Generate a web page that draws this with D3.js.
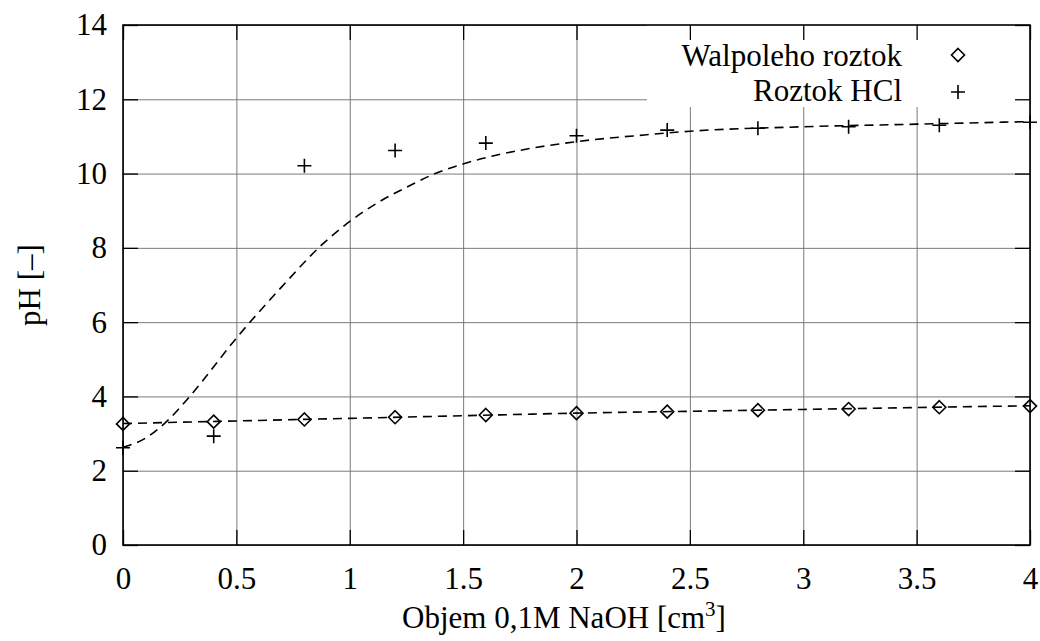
<!DOCTYPE html>
<html>
<head>
<meta charset="utf-8">
<script src="https://cdn.jsdelivr.net/npm/d3@7/dist/d3.min.js"></script>
<style>
  body { margin: 0; background: #fff; }
</style>
</head>
<body>
<div id="chart"></div>
<script>
// measured points (volume of NaOH in cm3)
var volumes = [0, 0.4, 0.8, 1.2, 1.6, 2.0, 2.4, 2.8, 3.2, 3.6, 4.0];
var walpolePH = [3.26, 3.32, 3.38, 3.44, 3.50, 3.55, 3.59, 3.63, 3.66, 3.71, 3.74];
var hclPH = [2.62, 2.93, 10.21, 10.62, 10.82, 11.02, 11.17, 11.22, 11.26, 11.30, 11.38];

// fitted curves
var walpoleFitX = [0, 0.5, 1.0, 1.5, 2.0, 2.5, 3.0, 3.5, 4.0];
var walpoleFitY = [3.27, 3.34, 3.41, 3.48, 3.55, 3.60, 3.65, 3.70, 3.75];
var hclFitX = [0, 0.1, 0.2, 0.3, 0.5, 0.7, 0.88, 1.0, 1.13, 1.27, 1.38, 1.5, 1.65, 1.8, 2.0, 2.3, 2.5, 3.0, 3.5, 4.0];
var hclFitY = [2.63, 2.88, 3.37, 4.04, 5.57, 6.95, 8.10, 8.71, 9.24, 9.69, 10.01, 10.26, 10.50, 10.68, 10.86, 11.04, 11.14, 11.26, 11.33, 11.40];

var xTicks = [0, 0.5, 1, 1.5, 2, 2.5, 3, 3.5, 4];
var yTicks = [0, 2, 4, 6, 8, 10, 12, 14];
var seriesNames = ["Walpoleho roztok", "Roztok HCl"];

var serif = "'Liberation Serif'";
var fontSize = 31;
var width = 1040, height = 641;
var offsets = { left: 123, right: 10, top: 25, bottom: 96 };
var plotW = width - offsets.left - offsets.right;
var plotH = height - offsets.top - offsets.bottom;

var svg = d3.select('#chart').append('svg').attr('width', width).attr('height', height);
var g = svg.append('g').attr('transform', 'translate(' + offsets.left + ',' + offsets.top + ')');

var x = d3.scaleLinear().domain([0, 4]).range([0, plotW]);
var y = d3.scaleLinear().domain([0, 14]).range([plotH, 0]);
var fmt = d3.format('~g');

// grid
var gridX = g.append('g').attr('transform', 'translate(0,' + plotH + ')')
    .call(d3.axisBottom(x).tickValues(xTicks).tickSize(-plotH).tickFormat(''));
var gridY = g.append('g').call(d3.axisLeft(y).tickValues(yTicks).tickSize(-plotW).tickFormat(''));
[gridX, gridY].forEach(function(a) {
    a.select('.domain').remove();
    a.selectAll('line').attr('stroke', '#7a7a7a').attr('stroke-width', 1);
});

// key background covers the grid
g.append('rect').attr('x', 524).attr('y', 0).attr('width', plotW - 524).attr('height', 82).attr('fill', '#fff');

// ticks (inward, mirrored) and labels
var tick = 15;
var axBottom = g.append('g').attr('transform', 'translate(0,' + plotH + ')')
    .call(d3.axisBottom(x).tickValues(xTicks).tickSize(-tick).tickPadding(33).tickFormat(fmt));
var axTop = g.append('g').call(d3.axisTop(x).tickValues(xTicks).tickSize(-tick).tickFormat(''));
var axLeft = g.append('g').call(d3.axisLeft(y).tickValues(yTicks).tickSize(-tick).tickPadding(16).tickFormat(fmt));
var axRight = g.append('g').attr('transform', 'translate(' + plotW + ',0)')
    .call(d3.axisRight(y).tickValues(yTicks).tickSize(-tick).tickFormat(''));
[axBottom, axTop, axLeft, axRight].forEach(function(a) {
    a.select('.domain').remove();
    a.attr('font-family', serif).attr('font-size', fontSize);
    a.selectAll('line').attr('stroke', '#000').attr('stroke-width', 1.3);
    a.selectAll('text').attr('fill', '#000');
});
axBottom.selectAll('text').attr('dy', '0.35em');
g.append('rect').attr('width', plotW).attr('height', plotH).attr('fill', 'none')
    .attr('stroke', '#000').attr('stroke-width', 1.6);

// fitted curves
var line = d3.line().x(function(d) { return x(d[0]); }).y(function(d) { return y(d[1]); }).curve(d3.curveMonotoneX);
var fits = [d3.zip(walpoleFitX, walpoleFitY), d3.zip(hclFitX, hclFitY)];
g.selectAll('.fit').data(fits).enter().append('path').attr('class', 'fit')
    .attr('d', line).attr('fill', 'none').attr('stroke', '#000')
    .attr('stroke-width', 1.6).attr('stroke-dasharray', '9,6');

// markers
var diamond = 'M0,-6.5L6.5,0L0,6.5L-6.5,0Z';
var plus = 'M-7,0H7M0,-7V7';
g.selectAll('.dia').data(d3.zip(volumes, walpolePH)).enter().append('path').attr('class', 'dia')
    .attr('transform', function(d) { return 'translate(' + x(d[0]) + ',' + y(d[1]) + ')'; })
    .attr('d', diamond).attr('fill', 'none').attr('stroke', '#000').attr('stroke-width', 1.6);
g.selectAll('.pls').data(d3.zip(volumes, hclPH)).enter().append('path').attr('class', 'pls')
    .attr('transform', function(d) { return 'translate(' + x(d[0]) + ',' + y(d[1]) + ')'; })
    .attr('d', plus).attr('fill', 'none').attr('stroke', '#000').attr('stroke-width', 1.6);

// key
var keyRows = [30, 65];
g.selectAll('.keytext').data(seriesNames).enter().append('text').attr('class', 'keytext')
    .attr('x', 779).attr('y', function(d, i) { return keyRows[i]; }).attr('dy', '0.35em')
    .attr('text-anchor', 'end').attr('font-family', serif).attr('font-size', fontSize).text(function(d) { return d; });
g.append('path').attr('transform', 'translate(835,' + keyRows[0] + ')').attr('d', diamond)
    .attr('fill', 'none').attr('stroke', '#000').attr('stroke-width', 1.6);
g.append('path').attr('transform', 'translate(835,' + (keyRows[1] + 2) + ')').attr('d', plus)
    .attr('fill', 'none').attr('stroke', '#000').attr('stroke-width', 1.6);

// axis titles
var xt = svg.append('text').attr('x', 564).attr('y', 628).attr('text-anchor', 'middle')
    .attr('font-family', serif).attr('font-size', fontSize);
xt.append('tspan').text('Objem 0,1M NaOH [cm');
xt.append('tspan').attr('dy', -12).attr('font-size', 21).text('3');
xt.append('tspan').attr('dy', 12).text(']');
svg.append('text').attr('transform', 'translate(40,285) rotate(-90)').attr('text-anchor', 'middle')
    .attr('font-family', serif).attr('font-size', fontSize).text('pH [–]');
</script>
</body>
</html>
